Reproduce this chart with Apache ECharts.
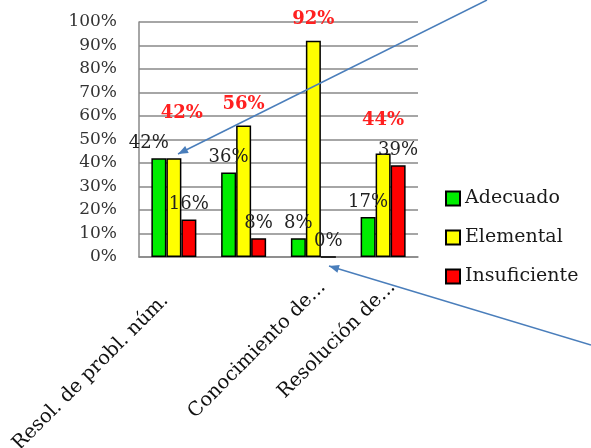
<!DOCTYPE html>
<html>
<head>
<meta charset="utf-8">
<script src="https://cdn.jsdelivr.net/npm/echarts@6/dist/echarts.min.js"></script>
<style>html,body{margin:0;padding:0;background:#fff}#c{width:591px;height:448px}</style>
</head>
<body>
<div id="c"></div>
<script>
var categories = ['Resol. de probl. núm.', 'Comunicación de...', 'Conocimiento de...', 'Resolución de...'];
var shownCategoryLabels = [0, 2, 3];
var seriesNames = ['Adecuado', 'Elemental', 'Insuficiente'];
var adecuado = [42, 36, 8, 17];
var elemental = [42, 56, 92, 44];
var insuficiente = [16, 8, 0, 39];
var yTicks = {min: 0, max: 100, interval: 10};

var FONT = 'DejaVu Serif';
var chart = echarts.init(document.getElementById('c'), null, {renderer: 'canvas'});

function arrow(x1, y1, x2, y2) {
  var dx = x2 - x1, dy = y2 - y1, L = Math.sqrt(dx*dx + dy*dy);
  var ux = dx / L, uy = dy / L, px = -uy, py = ux;
  var bx = x2 - 10 * ux, by = y2 - 10 * uy;
  return [
    {type: 'line', shape: {x1: x1, y1: y1, x2: x2, y2: y2}, style: {stroke: '#4a7ebb', lineWidth: 1.5}, z: 100},
    {type: 'polygon', shape: {points: [[x2, y2], [bx + 4 * px, by + 4 * py], [bx - 4 * px, by - 4 * py]]}, style: {fill: '#4a7ebb'}, z: 100}
  ];
}

// label nudges (style only)
var elementalLift = [24, 0, 0, 12];
var adecuadoNudgeX = [-10, 0, 0, 0];

function nudge(dxArr, dyArr) {
  return function (p) {
    return {
      x: p.labelRect.x + p.labelRect.width / 2 + (dxArr ? dxArr[p.dataIndex] : 0),
      y: p.labelRect.y + p.labelRect.height / 2 - (dyArr ? dyArr[p.dataIndex] : 0),
      align: 'center', verticalAlign: 'middle'
    };
  };
}

var barCommon = {type: 'bar', barWidth: 15, barGap: '0%'};
var blackLabel = {show: true, position: 'top', distance: 6, formatter: '{c}%', fontFamily: FONT, fontSize: 18, color: '#222'};

var option = {
  animation: false,
  backgroundColor: '#fff',
  grid: {left: 139, right: 173, top: 22, bottom: 191, containLabel: false, outerBoundsMode: 'none'},
  legend: {
    orient: 'vertical', left: 440, top: 184, itemWidth: 14, itemHeight: 14, itemGap: 20,
    icon: 'rect',
    textStyle: {fontFamily: FONT, fontSize: 19, color: '#1a1a1a'},
    data: seriesNames
  },
  xAxis: {
    type: 'category', data: categories,
    axisLine: {lineStyle: {color: '#888', width: 1.5}},
    axisTick: {show: false},
    axisLabel: {
      rotate: 45, margin: 18, verticalAlign: 'top', fontFamily: FONT, fontSize: 19.5, color: '#111',
      interval: function (i) { return shownCategoryLabels.indexOf(i) >= 0; },
      formatter: function (v, i) { return i === 0 ? '{a|' + v + '}' : '{b|' + v + '}'; },
      rich: {
        a: {fontFamily: FONT, fontSize: 19.5, color: '#111', padding: [0, 22, 0, 0]},
        b: {fontFamily: FONT, fontSize: 19.5, color: '#111', padding: [3, 0, 0, 0]}
      }
    }
  },
  yAxis: {
    type: 'value', min: yTicks.min, max: yTicks.max, interval: yTicks.interval,
    axisLine: {show: true, lineStyle: {color: '#888', width: 1.5}},
    axisTick: {show: false},
    splitLine: {lineStyle: {color: '#888', width: 1.5}},
    axisLabel: {formatter: '{value}%', margin: 22, fontFamily: FONT, fontSize: 17, color: '#333'}
  },
  series: [
    Object.assign({}, barCommon, {name: seriesNames[0], data: adecuado,
      itemStyle: {color: '#00ee00', borderColor: '#000', borderWidth: 1.5},
      label: Object.assign({}, blackLabel),
      labelLayout: nudge(adecuadoNudgeX, null)}),
    Object.assign({}, barCommon, {name: seriesNames[1], data: elemental,
      itemStyle: {color: '#ffff00', borderColor: '#000', borderWidth: 1.5},
      label: {show: true, position: 'top', distance: 12, formatter: '{c}%', fontFamily: FONT, fontSize: 18, fontWeight: 'bold', color: '#ff2020'},
      labelLayout: nudge([8, 0, 0, 0], elementalLift)
    }),
    Object.assign({}, barCommon, {name: seriesNames[2], data: insuficiente,
      itemStyle: {color: '#ff0000', borderColor: '#000', borderWidth: 1.5},
      label: Object.assign({}, blackLabel)})
  ],
  graphic: arrow(487, 0, 178, 154).concat(arrow(591, 345, 329, 266))
};
chart.setOption(option);
</script>
</body>
</html>
